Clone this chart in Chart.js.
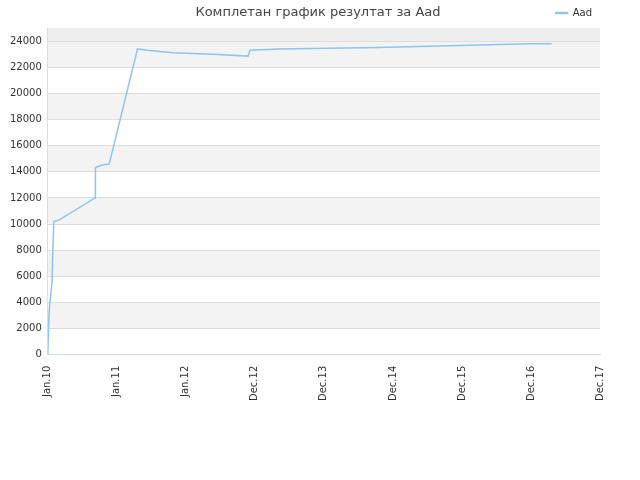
<!DOCTYPE html>
<html>
<head>
<meta charset="utf-8">
<script src="https://cdn.jsdelivr.net/npm/chart.js@4.4.0/dist/chart.umd.min.js"></script>
<style>
  body { margin: 0; background: #fff; }
  #wrap { width: 640px; height: 480px; position: relative; }
  #title { position: absolute; top: 4px; left: 0; width: 636px; text-align: center; font: 13px 'DejaVu Sans'; color: #444; }
</style>
</head>
<body>
<div id="wrap"><div id="title">Комплетан график резултат за Aad</div><canvas id="resultChart"></canvas></div>
<script>
// x positions are in tick units (0 = Jan.10, 1 = Jan.11, ...)
const tickLabels = ['Jan.10', 'Jan.11', 'Jan.12', 'Dec.12', 'Dec.13', 'Dec.14', 'Dec.15', 'Dec.16', 'Dec.17'];
const yTicks = [0, 2000, 4000, 6000, 8000, 10000, 12000, 14000, 16000, 18000, 20000, 22000, 24000];
const pointX = [0, 0.015, 0.03, 0.06, 0.073, 0.087, 0.16, 0.685, 0.69, 0.77, 0.89, 1.30, 1.44, 1.81, 2.39, 2.90, 2.93, 3.34, 4.07, 4.80, 5.52, 6.25, 6.98, 7.30];
const pointY = [0, 2800, 4000, 5500, 8000, 10200, 10300, 12000, 14300, 14500, 14600, 23400, 23300, 23100, 23000, 22850, 23300, 23400, 23450, 23500, 23600, 23700, 23800, 23800];

const bandPlugin = {
    id: 'bands',
    beforeDraw(chart) {
        const { ctx, chartArea, scales } = chart;
        const y = scales.y;
        ctx.save();
        ctx.fillStyle = '#eeeeee';
        ctx.fillRect(chartArea.left, y.getPixelForValue(25000), chartArea.width, y.getPixelForValue(24000) - y.getPixelForValue(25000));
        ctx.fillStyle = '#f3f3f3';
        for (let v = 2000; v < 24000; v += 4000) {
            const top = y.getPixelForValue(v + 2000);
            const bottom = y.getPixelForValue(v);
            ctx.fillRect(chartArea.left, top, chartArea.width, bottom - top);
        }
        ctx.restore();
    }
};

new Chart(document.getElementById('resultChart'), {
    type: 'line',
    data: {
        datasets: [{
            label: 'Aad',
            data: pointX.map((x, i) => ({ x, y: pointY[i] })),
            borderColor: '#8fc3f2',
            backgroundColor: '#8fc3f2',
            borderWidth: 1.5,
            pointRadius: 0,
            tension: 0,
            fill: false
        }]
    },
    options: {
        responsive: true,
        maintainAspectRatio: false,
        animation: false,
        layout: { padding: { left: 4, right: 40, top: 0, bottom: 76 } },
        plugins: {
            legend: {
                position: 'top',
                align: 'end',
                labels: {
                    color: '#333',
                    font: { family: 'DejaVu Sans', size: 10 },
                    boxWidth: 12,
                    boxHeight: 1,
                    padding: 8
                }
            },
            tooltip: { enabled: false }
        },
        scales: {
            x: {
                type: 'linear',
                min: 0,
                max: 8,
                afterBuildTicks: axis => { axis.ticks = tickLabels.map((_, i) => ({ value: i })); },
                grid: { display: false },
                border: { color: '#dddddd' },
                ticks: {
                    color: '#333',
                    font: { family: 'DejaVu Sans', size: 10 },
                    maxRotation: 90,
                    minRotation: 90,
                    autoSkip: false,
                    callback: v => tickLabels[v]
                }
            },
            y: {
                min: 0,
                max: 25000,
                afterBuildTicks: axis => { axis.ticks = yTicks.map(v => ({ value: v })); },
                grid: { color: '#dddddd', drawTicks: false },
                border: { color: '#dddddd' },
                ticks: {
                    padding: 6,
                    autoSkip: false,
                    color: '#333',
                    font: { family: 'DejaVu Sans', size: 10 },
                    callback: v => String(v)
                }
            }
        }
    },
    plugins: [bandPlugin]
});
</script>
</body>
</html>
